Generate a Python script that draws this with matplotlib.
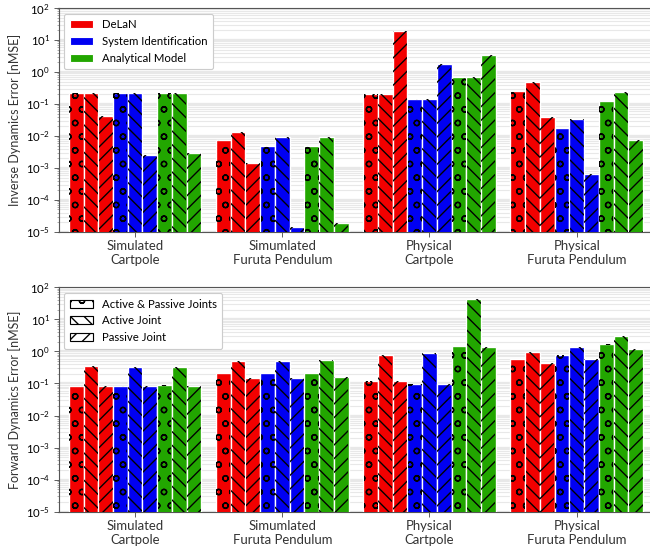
import numpy as np
import matplotlib
matplotlib.use("Agg")
import matplotlib.pyplot as plt
from matplotlib.patches import Patch
from matplotlib.ticker import LogLocator, NullFormatter

plt.rcParams['font.family'] = ['Lato', 'DejaVu Sans']
plt.rcParams['mathtext.fontset'] = 'cm'
plt.rcParams['hatch.linewidth'] = 1.2

systems = ["Simulated\nCartpole", "Simumlated\nFuruta Pendulum",
           "Physical\nCartpole", "Physical\nFuruta Pendulum"]
models = ["DeLaN", "System Identification", "Analytical Model"]
joints = ["Active & Passive Joints", "Active Joint", "Passive Joint"]

# Inverse dynamics nMSE: per system -> [active&passive, active, passive]
inv_delan = [[0.22, 0.22, 0.042], [0.0073, 0.0128, 0.0014], [0.21, 0.21, 19.0], [0.26, 0.48, 0.039]]
inv_sysid = [[0.22, 0.22, 0.0025], [0.0048, 0.0091, 1.4e-5], [0.14, 0.14, 1.8], [0.018, 0.034, 6.5e-4]]
inv_analytic = [[0.22, 0.22, 0.0029], [0.0048, 0.0091, 1.9e-5], [0.70, 0.70, 3.5], [0.12, 0.23, 0.0075]]

# Forward dynamics nMSE
fwd_delan = [[0.086, 0.35, 0.083], [0.22, 0.50, 0.145], [0.123, 0.76, 0.123], [0.60, 0.96, 0.44]]
fwd_sysid = [[0.086, 0.33, 0.083], [0.22, 0.50, 0.145], [0.097, 0.90, 0.097], [0.79, 1.38, 0.60]]
fwd_analytic = [[0.09, 0.33, 0.086], [0.22, 0.53, 0.156], [1.44, 43.0, 1.34], [1.71, 2.97, 1.19]]

colors = ["#f20000", "#0000f2", "#22a600"]
hatches = ["o", "\\\\", "//"]

fig = plt.figure(figsize=(650 / 82, 552 / 82), dpi=82)
ax1 = fig.add_axes([0.090, 0.580, 0.915, 0.4055])
ax2 = fig.add_axes([0.090, 0.073, 0.915, 0.4065])

x = np.arange(len(systems))
width = 0.1


def draw(ax, data, ylabel):
    for m, vals in enumerate(data):
        vals = np.array(vals)
        for j in range(3):
            pos = x + (m * 3 + j - 4) * width
            ax.bar(pos, vals[:, j] - 1e-6, width, bottom=1e-6, color=colors[m],
                   edgecolor="white", linewidth=1.2, zorder=3)
            ax.bar(pos, vals[:, j] - 1e-6, width * 0.95, bottom=1e-6, facecolor="none",
                   edgecolor="black", linewidth=0, hatch=hatches[j], zorder=4)
    ax.set_yscale("log")
    ax.set_ylim(1e-5, 1e2)
    ax.set_xlim(-0.52, 3.52)
    ax.set_xticks(x)
    ax.set_xticklabels(systems, fontsize=11.5, color="#333333")
    ax.yaxis.set_major_locator(LogLocator(base=10, numticks=20))
    ax.yaxis.set_minor_locator(LogLocator(base=10, subs=np.arange(2, 10), numticks=20))
    ax.yaxis.set_minor_formatter(NullFormatter())
    ax.tick_params(axis="y", which="major", labelsize=10, length=4, color="#555555")
    ax.tick_params(axis="y", which="minor", length=2, color="#888888")
    ax.tick_params(axis="x", length=4, color="#555555")
    ax.grid(True, which="major", axis="y", color="#e8e8e8", linewidth=2.0, zorder=0)
    ax.grid(True, which="minor", axis="y", color="#e8e8e8", linewidth=1.0, zorder=0)
    ax.set_axisbelow(True)
    ax.spines["right"].set_visible(False)
    for s in ["left", "bottom", "top"]:
        ax.spines[s].set_color("#555555")
        ax.spines[s].set_linewidth(1.0)
    ax.set_ylabel(ylabel, fontsize=11, color="#333333")


draw(ax1, [inv_delan, inv_sysid, inv_analytic], "Inverse Dynamics Error [nMSE]")
draw(ax2, [fwd_delan, fwd_sysid, fwd_analytic], "Forward Dynamics Error [nMSE]")

h1 = [Patch(facecolor=c, edgecolor="white", label=l) for c, l in zip(colors, models)]
ax1.legend(handles=h1, loc="upper left", fontsize=10, handlelength=2.0,
           frameon=True, edgecolor="#cccccc", framealpha=1.0, borderpad=0.5)
h2 = [Patch(facecolor="white", edgecolor="black", hatch=h, label=l) for h, l in zip(hatches, joints)]
ax2.legend(handles=h2, loc="upper left", fontsize=10, handlelength=2.0,
           frameon=True, edgecolor="#cccccc", framealpha=1.0, borderpad=0.5)

fig.savefig("out.png", dpi=82)
